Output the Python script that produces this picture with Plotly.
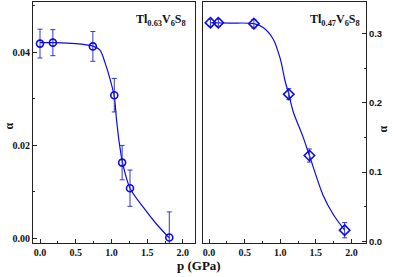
import plotly.graph_objects as go

# Left panel: Tl0.63V6S8
p_a = [0.0, 0.18, 0.74, 1.04, 1.15, 1.26, 1.81]
alpha_a = [0.0419, 0.0421, 0.0413, 0.0308, 0.0163, 0.0108, 0.0002]
err_a = [0.0031, 0.0028, 0.0032, 0.0036, 0.0037, 0.0039, 0.0055]
fit_a_p = [0.0, 0.2, 0.5, 0.73, 0.84, 0.91, 0.98, 1.04, 1.07, 1.11, 1.16, 1.26, 1.45, 1.63, 1.81]
fit_a_alpha = [0.0421, 0.0421, 0.0419, 0.0414, 0.0405, 0.0378, 0.0343, 0.0305, 0.0257, 0.0205,
               0.0160, 0.0108, 0.0066, 0.0031, 0.0001]

# Right panel: Tl0.47V6S8
p_b = [0.02, 0.13, 0.63, 1.12, 1.41, 1.905]
alpha_b = [0.316, 0.316, 0.3147, 0.2126, 0.124, 0.016]
err_b = [0.005, 0.005, 0.006, 0.008, 0.0095, 0.011]
fit_b_p = [0.02, 0.3, 0.63, 0.76, 0.90, 1.0, 1.07, 1.12, 1.18, 1.32, 1.41, 1.60, 1.75, 1.905]
fit_b_alpha = [0.316, 0.3155, 0.3147, 0.309, 0.2925, 0.264, 0.231, 0.213, 0.188, 0.151,
               0.124, 0.067, 0.038, 0.016]

x_ticks = [0.0, 0.5, 1.0, 1.5, 2.0]
x_ticklabels = ["0.0", "0.5", "1.0", "1.5", "2.0"]
ya_ticks = [0.0, 0.02, 0.04]
ya_ticklabels = ["0.00", "0.02", "0.04"]
yb_ticks = [0.0, 0.1, 0.2, 0.3]
yb_ticklabels = ["0.0", "0.1", "0.2", "0.3"]

BLUE = "#0a0ae6"
W, H = 396, 277
serif = "Liberation Serif"

fig = go.Figure()
fig.add_trace(go.Scatter(x=fit_a_p, y=fit_a_alpha, mode="lines",
                         line=dict(color=BLUE, width=1.2, shape="spline", smoothing=0.8),
                         xaxis="x", yaxis="y", showlegend=False, hoverinfo="skip"))
fig.add_trace(go.Scatter(x=p_a, y=alpha_a, mode="markers",
                         marker=dict(symbol="circle-open", size=7, color=BLUE, line=dict(width=1.6, color=BLUE)),
                         error_y=dict(type="data", array=err_a, color="#3535d0", thickness=1, width=2.5),
                         xaxis="x", yaxis="y", showlegend=False))
fig.add_trace(go.Scatter(x=fit_b_p, y=fit_b_alpha, mode="lines",
                         line=dict(color=BLUE, width=1.2, shape="spline", smoothing=0.8),
                         xaxis="x2", yaxis="y2", showlegend=False, hoverinfo="skip"))
fig.add_trace(go.Scatter(x=p_b, y=alpha_b, mode="markers",
                         marker=dict(symbol="diamond-open", size=8, color=BLUE, line=dict(width=1.6, color=BLUE)),
                         error_y=dict(type="data", array=err_b, color="#3535d0", thickness=1, width=2.5),
                         xaxis="x2", yaxis="y2", showlegend=False))

axis_common = dict(showline=True, linecolor="#222", linewidth=1, mirror=True,
                   ticks="inside", ticklen=4, tickcolor="#222", showgrid=False, zeroline=False)
xfont = dict(family=serif, size=10, color="#111", weight="bold")

fig.update_layout(
    width=W, height=H, margin=dict(l=0, r=0, t=0, b=0),
    paper_bgcolor="white", plot_bgcolor="white",
    xaxis=dict(domain=[33 / W, 195 / W], range=[-0.098, 2.17], tickvals=x_ticks, ticktext=x_ticklabels,
               tickfont=xfont, anchor="y",
               minor=dict(ticks="inside", ticklen=2, dtick=0.25, tickcolor="#222"), **axis_common),
    yaxis=dict(domain=[1 - 246 / H, 1 - 2 / H], range=[-0.00106, 0.05085], tickvals=ya_ticks,
               ticktext=ya_ticklabels, tickfont=xfont, anchor="x",
               minor=dict(ticks="inside", ticklen=2, tickvals=[0.01, 0.03, 0.05], tickcolor="#222"), **axis_common),
    xaxis2=dict(domain=[203 / W, 366 / W], range=[-0.085, 2.205], tickvals=x_ticks, ticktext=x_ticklabels,
                tickfont=xfont, anchor="y2",
                minor=dict(ticks="inside", ticklen=2, dtick=0.25, tickcolor="#222"), **axis_common),
    yaxis2=dict(domain=[1 - 246 / H, 1 - 2 / H], range=[-0.003, 0.346], tickvals=yb_ticks,
                ticktext=yb_ticklabels, side="right", anchor="x2",
                tickfont=dict(family="Liberation Sans", size=9.5, color="#111", weight="bold"),
                minor=dict(ticks="inside", ticklen=2, tickvals=[0.05, 0.15, 0.25], tickcolor="#222"), **axis_common),
)

def ann(text, px, py, size, xanchor="center", angle=0, family=serif):
    fig.add_annotation(text=text, x=px / W, y=1 - py / H, xref="paper", yref="paper",
                       showarrow=False, xanchor=xanchor, yanchor="middle", textangle=angle,
                       font=dict(family=family, size=size, color="#111", weight="bold"))

ann("Tl<sub>0.63</sub>V<sub>6</sub>S<sub>8</sub>", 188, 20, 12, xanchor="right")
ann("Tl<sub>0.47</sub>V<sub>6</sub>S<sub>8</sub>", 362, 20, 12, xanchor="right")
ann("α", 9, 128, 12, angle=-90)
ann("α", 383, 131, 12, angle=-90)
ann("p (GPa)", 199, 268, 13)

fig.write_html("out.html", config={"displayModeBar": False},
               post_script="document.body.style.margin='0';document.body.style.overflow='hidden';")
